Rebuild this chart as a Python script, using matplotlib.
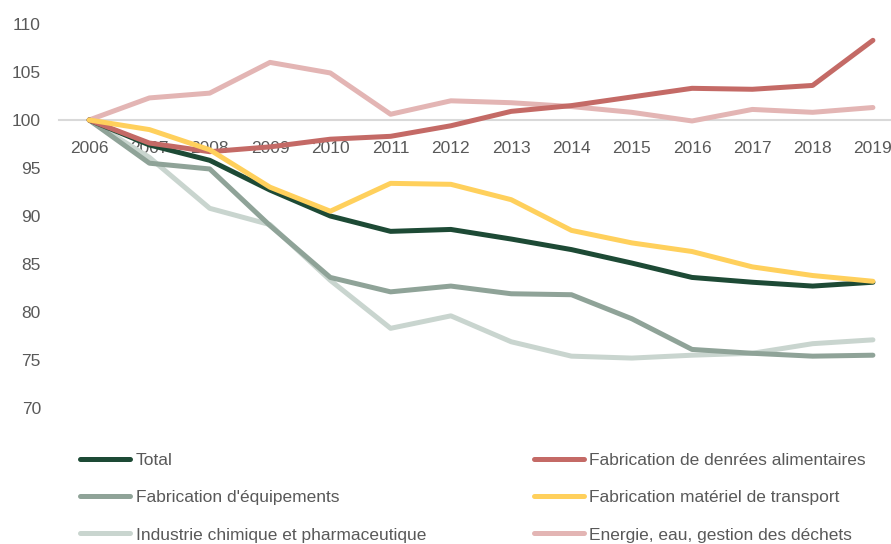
import matplotlib
matplotlib.use("Agg")
import matplotlib.pyplot as plt

years = [str(y) for y in range(2006, 2020)]
total = [100, 97.4, 95.8, 92.7, 90.0, 88.4, 88.6, 87.6, 86.5, 85.1, 83.6, 83.1, 82.7, 83.1]
denrees = [100, 97.6, 96.7, 97.2, 98.0, 98.3, 99.4, 100.9, 101.5, 102.4, 103.3, 103.2, 103.6, 108.3]
equipements = [100, 95.5, 94.9, 89.0, 83.6, 82.1, 82.7, 81.9, 81.8, 79.3, 76.1, 75.7, 75.4, 75.5]
transport = [100, 99.0, 96.9, 93.0, 90.5, 93.4, 93.3, 91.7, 88.5, 87.2, 86.3, 84.7, 83.8, 83.2]
chimique = [100, 96.1, 90.8, 89.1, 83.3, 78.3, 79.6, 76.9, 75.4, 75.2, 75.5, 75.7, 76.7, 77.1]
energie = [100, 102.3, 102.8, 106.0, 104.9, 100.6, 102.0, 101.8, 101.4, 100.8, 99.9, 101.1, 100.8, 101.3]
y_ticks = [70, 75, 80, 85, 90, 95, 100, 105, 110]

labels = {
    "total": "Total",
    "denrees": "Fabrication de denrées alimentaires",
    "equip": "Fabrication d'équipements",
    "transport": "Fabrication matériel de transport",
    "chimique": "Industrie chimique et pharmaceutique",
    "energie": "Energie, eau, gestion des déchets",
}
colors = {
    "total": "#1d4a35",
    "denrees": "#c46a66",
    "equip": "#8fa398",
    "transport": "#ffd05c",
    "chimique": "#c9d5cf",
    "energie": "#e3b5b4",
}

plt.rcParams['font.family'] = ['Liberation Sans', 'DejaVu Sans']
fs = 12.5
fig = plt.figure(figsize=(8.91, 5.44), dpi=100)
ax = fig.add_axes([59/891, 1 - 408/544, 1 - 59/891, (408 - 24)/544])

x = list(range(len(years)))
lw = 3.6
kw = dict(linewidth=lw, solid_capstyle='round', solid_joinstyle='round')
h_chim, = ax.plot(x, chimique, color=colors["chimique"], label=labels["chimique"], zorder=2, **kw)
h_en, = ax.plot(x, energie, color=colors["energie"], label=labels["energie"], zorder=2, **kw)
h_eq, = ax.plot(x, equipements, color=colors["equip"], label=labels["equip"], zorder=3, **kw)
h_tot, = ax.plot(x, total, color=colors["total"], label=labels["total"], zorder=4, **kw)
h_den, = ax.plot(x, denrees, color=colors["denrees"], label=labels["denrees"], zorder=4, **kw)
h_tr, = ax.plot(x, transport, color=colors["transport"], label=labels["transport"], zorder=5, **kw)

ax.set_ylim(70, 110)
ax.set_xlim(-0.5, 13.3)
ax.set_yticks(y_ticks)
ax.set_xticks(x)
ax.set_xticklabels(years)
for s in ['top', 'right', 'left']:
    ax.spines[s].set_visible(False)
ax.spines['bottom'].set_position(('data', 100))
ax.spines['bottom'].set_color('#d9d9d9')
ax.spines['bottom'].set_linewidth(1.5)
ax.spines['bottom'].set_zorder(1)
ax.tick_params(axis='both', length=0, labelsize=fs, labelcolor='#595959')
ax.tick_params(axis='x', pad=15)
ax.tick_params(axis='y', pad=13)

handles = [h_tot, h_eq, h_chim, h_den, h_tr, h_en]
leg = fig.legend(handles=handles, labels=[h.get_label() for h in handles], ncol=2,
                 loc='upper left', bbox_to_anchor=(80/891, 1 - 453/544),
                 frameon=False, borderpad=0, borderaxespad=0, fontsize=fs,
                 handlelength=2.9, handletextpad=0.3, columnspacing=6.2,
                 labelspacing=1.27)
for t in leg.get_texts():
    t.set_color('#595959')
for l in leg.get_lines():
    l.set_linewidth(lw)
    l.set_solid_capstyle('round')

fig.savefig("out.png", dpi=100)
